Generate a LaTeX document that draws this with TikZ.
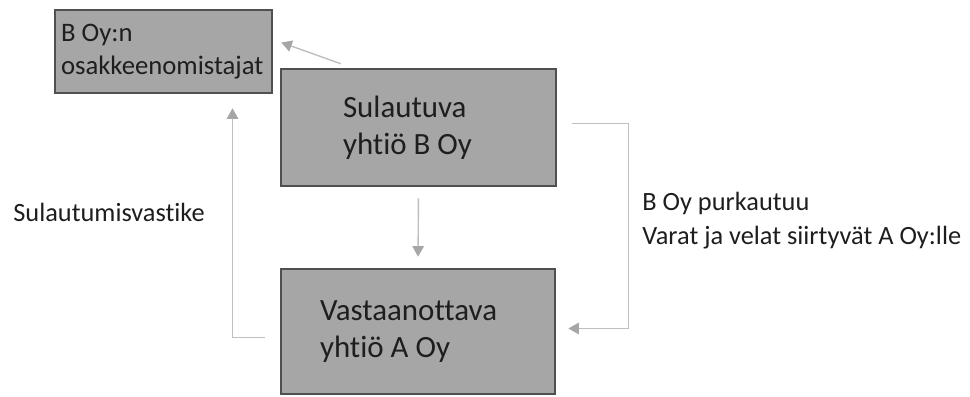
\documentclass[tikz,border=0pt]{standalone}
\usepackage{fontspec}
\setmainfont{Carlito}[Ligatures=NoCommon]
\usepackage{xcolor}
\usetikzlibrary{arrows.meta,calc,positioning}
\definecolor{boxfill}{RGB}{166,166,166}
\definecolor{boxline}{RGB}{80,80,80}
\definecolor{conline}{RGB}{191,191,191}
\definecolor{tiptone}{RGB}{166,166,166}
\definecolor{ink}{RGB}{30,30,30}
\tikzset{
  firm/.style={draw=boxline,line width=1.5pt,fill=boxfill,text=ink,align=flush left,inner sep=0pt},
  conn/.style={conline,line width=0.8pt,-{Triangle[length=6pt,width=6.5pt,color=tiptone]}},
  note/.style={text=ink,align=flush left,anchor=west,inner sep=0pt,font=\fontsize{15}{19.3}\selectfont}
}

\begin{document}
\begin{tikzpicture}[x=0.02cm,y=-0.02cm]
  \useasboundingbox (0,0) rectangle (970,396);
  % the three boxes
  \node[firm,minimum width=4.34cm,minimum height=1.66cm,text width=4.1cm,font=\fontsize{15.2}{19}\selectfont] (own) at (163.5,51.5) {B Oy:n\\osakkeenomistajat};
  \node[firm,minimum width=5.5cm,minimum height=2.34cm,text width=3.02cm,font=\fontsize{17.6}{21}\selectfont] (sul) at (418.5,127.5) {Sulautuva\\yhtiö B Oy};
  \node[firm,minimum width=5.48cm,minimum height=2.5cm,text width=3.92cm,font=\fontsize{17.6}{21}\selectfont] (vas) at (418,331.5) {Vastaanottava\\yhtiö A Oy};
  % connectors
  \draw[conn] ($(sul.north west)+(61,-4)$) -- ($(own.east)+(8,-9)$);
  \draw[conn,shorten <=0.22cm,shorten >=0.22cm] (sul.south) -- (vas.north);
  \draw[conn] ($(vas.west)+(-15,6)$) -| ($(own.south)+(69,14)$);
  \draw[conn] ($(sul.east)+(15,-4)$) -- ++(56,0) |- ($(vas.east)+(12,-3)$);
  % labels
  \node[note] (vast) at (13,212) {Sulautumisvastike};
  \node[note] (pur) at (642,221) {B Oy purkautuu\\Varat ja velat siirtyvät A Oy:lle};
\end{tikzpicture}
\end{document}
